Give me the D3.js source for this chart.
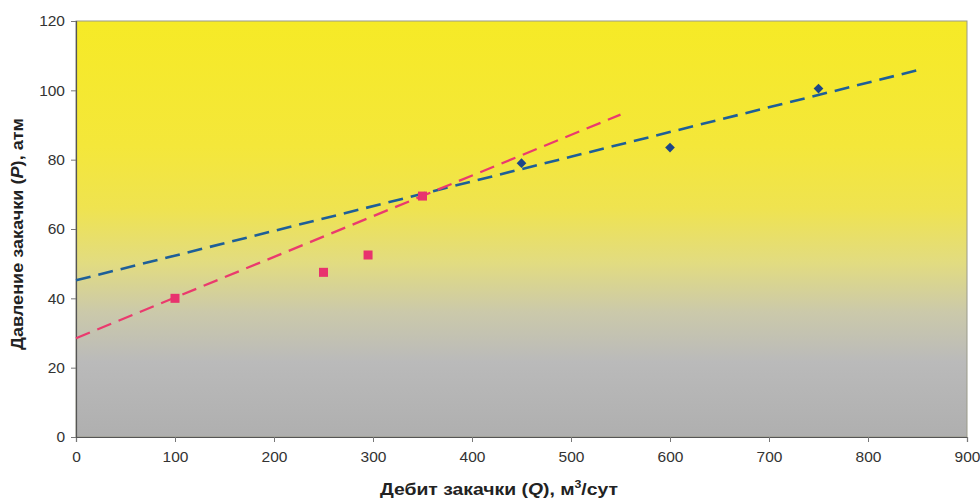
<!DOCTYPE html>
<html>
<head>
<meta charset="utf-8">
<script src="https://cdn.jsdelivr.net/npm/d3@7"></script>
<style>
  body { margin: 0; background: #fff; }
  text { font-family: "Liberation Sans", Arial, sans-serif; }
</style>
</head>
<body>
<div id="chart"></div>
<script>
// DATA
const blueQ = [450, 600, 750];
const blueP = [79, 83.5, 100.5];
const pinkQ = [100, 250, 295, 350];
const pinkP = [40, 47.5, 52.5, 69.5];
// trend lines: [Q, P] endpoints
const blueTrend = [[0, 45.2], [850, 105.8]];
const pinkTrend = [[0, 28.5], [550, 93]];
const xTicks = [0, 100, 200, 300, 400, 500, 600, 700, 800, 900];
const yTicks = [0, 20, 40, 60, 80, 100, 120];

// MAKE SVG CANVAS
const width = 980, height = 502;
const margin = {top: 21, left: 76, right: 13, bottom: 65};
const svg = d3.select("#chart").append("svg")
    .attr("width", width)
    .attr("height", height);

// SCALES
const xScale = d3.scaleLinear().domain([0, 900]).range([margin.left, width - margin.right]);
const yScale = d3.scaleLinear().domain([0, 120]).range([height - margin.bottom, margin.top]);

// BACKGROUND GRADIENT
const grad = svg.append("defs").append("linearGradient")
    .attr("id", "bg").attr("x1", 0).attr("y1", 0).attr("x2", 0).attr("y2", 1);
[["0%", "#f6ea26"], ["30%", "#f4e73a"], ["45%", "#efe350"], ["58%", "#e2dc80"],
 ["70%", "#cbc9aa"], ["82%", "#bababa"], ["100%", "#afafaf"]].forEach(function(s) {
    grad.append("stop").attr("offset", s[0]).attr("stop-color", s[1]);
});

svg.append("rect")
    .attr("x", xScale(0)).attr("y", yScale(120))
    .attr("width", xScale(900) - xScale(0))
    .attr("height", yScale(0) - yScale(120))
    .attr("fill", "url(#bg)")
    .attr("stroke", "#9a9a8a").attr("stroke-width", 1);

// AXIS
const xAxis = svg.append("g")
    .attr("transform", `translate(0, ${yScale(0)})`)
    .call(d3.axisBottom(xScale).tickValues(xTicks).tickSize(5).tickPadding(9));
const yAxis = svg.append("g")
    .attr("transform", `translate(${xScale(0)}, 0)`)
    .call(d3.axisLeft(yScale).tickValues(yTicks).tickSize(5).tickPadding(6));
svg.selectAll(".tick text")
    .attr("font-size", 15.5)
    .attr("font-family", "Liberation Sans, Arial, sans-serif")
    .attr("fill", "#333");
svg.selectAll(".domain").attr("stroke", "#555").attr("stroke-width", 1.2);
svg.selectAll(".tick line").attr("stroke", "#777");

svg.append("text")
    .attr("transform", "rotate(-90)")
    .attr("x", -234).attr("y", 23)
    .attr("text-anchor", "middle")
    .attr("textLength", 232).attr("lengthAdjust", "spacingAndGlyphs")
    .attr("font-size", 16.5).attr("font-weight", "bold").attr("fill", "#222")
    .html('Давление закачки (<tspan font-style="italic">P</tspan>), атм');

const xl = svg.append("text")
    .attr("x", 499).attr("y", 495)
    .attr("text-anchor", "middle")
    .attr("textLength", 238).attr("lengthAdjust", "spacingAndGlyphs")
    .attr("font-size", 16.5).attr("font-weight", "bold").attr("fill", "#222");
xl.append("tspan").text("Дебит закачки (");
xl.append("tspan").attr("font-style", "italic").text("Q");
xl.append("tspan").text("), м");
xl.append("tspan").attr("font-size", "10.5px").attr("dy", -7).text("3");
xl.append("tspan").attr("dy", 7).text("/сут");

// TREND LINES
const line = d3.line()
    .x(function(d) { return xScale(d[0]); })
    .y(function(d) { return yScale(d[1]); });

svg.append("path").datum(blueTrend)
    .attr("d", line).attr("fill", "none")
    .attr("stroke", "#1e5f98").attr("stroke-width", 2.6)
    .attr("stroke-dasharray", "15,8");
svg.append("path").datum(pinkTrend)
    .attr("d", line).attr("fill", "none")
    .attr("stroke", "#ea3a6e").attr("stroke-width", 2.3)
    .attr("stroke-dasharray", "15,8");

// POINTS
svg.selectAll(".sq").data(pinkQ).enter().append("rect")
    .attr("class", "sq")
    .attr("x", function(d) { return xScale(d) - 4.5; })
    .attr("y", function(d, i) { return yScale(pinkP[i]) - 4.5; })
    .attr("width", 9).attr("height", 9)
    .attr("fill", "#e8336e");

svg.selectAll(".dm").data(blueQ).enter().append("path")
    .attr("class", "dm")
    .attr("d", d3.symbol().type(d3.symbolDiamond2).size(60))
    .attr("transform", function(d, i) { return `translate(${xScale(d)}, ${yScale(blueP[i])})`; })
    .attr("fill", "#1d4688");
</script>
</body>
</html>
